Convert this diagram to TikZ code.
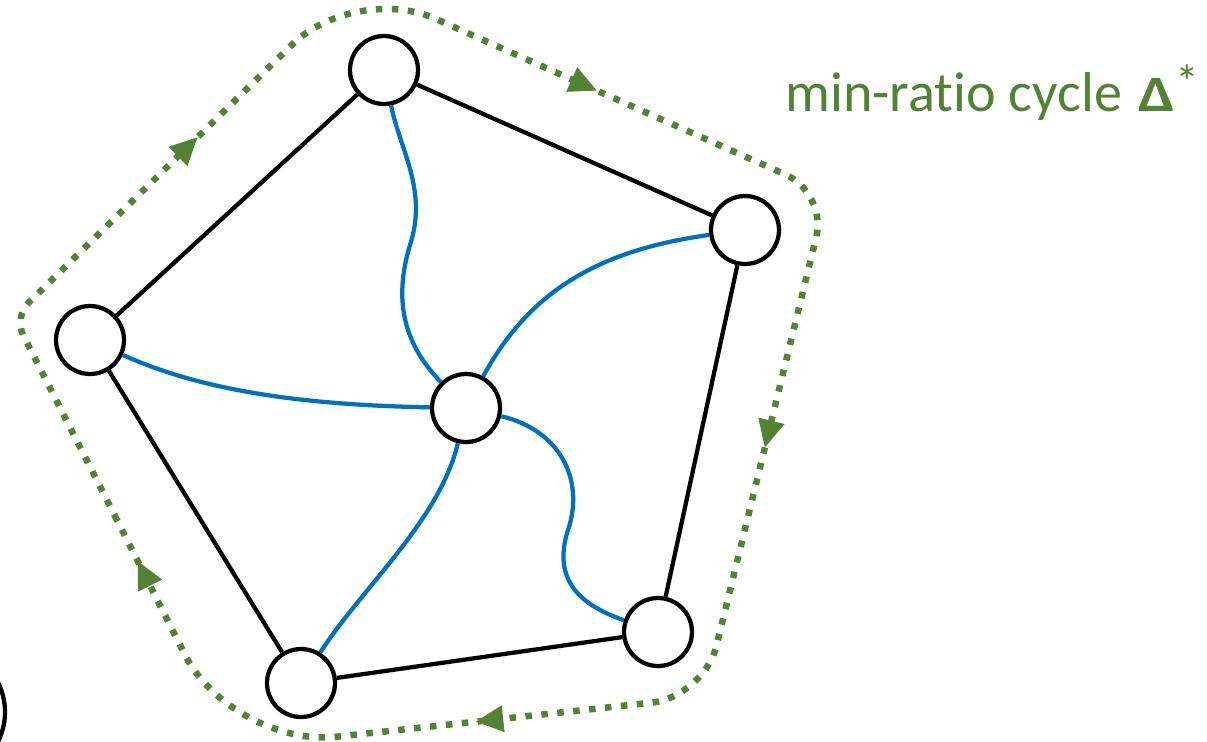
\documentclass[tikz,border=0pt]{standalone}
\usepackage{fontspec}
\setmainfont{Carlito}[Ligatures=NoCommon]
\usetikzlibrary{arrows.meta,decorations.markings}
\definecolor{cycgreen}{HTML}{548235}
\definecolor{edgeblue}{HTML}{0070C0}
\begin{document}
\begin{tikzpicture}[x=0.02cm,y=-0.02cm,
  vertex/.style={circle,draw,line width=0.085cm,minimum size=1.36cm,inner sep=0pt},
  edge/.style={line width=0.085cm},
  twist/.style={edgeblue,line width=0.085cm},
  cyctip/.tip={Triangle[length=0.56cm,width=0.5cm]},
  ratiocycle/.style={cycgreen,line width=0.13cm,dash pattern=on 0.13cm off 0.19cm,
    postaction={decorate},
    decoration={markings,
      mark=at position 0.201 with {\arrow{cyctip}},
      mark=at position 0.395 with {\arrow{cyctip}},
      mark=at position 0.604 with {\arrow{cyctip}},
      mark=at position 0.802 with {\arrow{cyctip}},
      mark=at position 0.981 with {\arrow{cyctip}}}}]
\useasboundingbox (0,0) rectangle (1207,741);
% vertices
\node[vertex] (t) at (384,70) {};
\node[vertex] (r) at (745,230) {};
\node[vertex] (l) at (90,340) {};
\node[vertex] (c) at (466,408) {};
\node[vertex] (br) at (658,632) {};
\node[vertex] (b) at (301,683) {};
\node[vertex,minimum size=2.64cm] (ghost) at (-61,712) {};
% outer edges
\draw[edge] (t) -- (l) (t) -- (r) (r) -- (br) (br) -- (b) (b) -- (l);
% blue edges to the centre
\draw[twist] (t) .. controls (400,150) and (428,190) .. (410,245)
  .. controls (395,295) and (400,340) .. (c);
\draw[twist] (c) .. controls (530,290) and (600,250) .. (r);
\draw[twist] (l) .. controls (200,390) and (300,405) .. (c);
\draw[twist] (c) .. controls (440,520) and (360,590) .. (b);
\draw[twist] (c) .. controls (560,430) and (585,480) .. (568,530)
  .. controls (552,580) and (580,605) .. (br);
% the cycle
\coordinate (s) at (117,520);
\coordinate (w) at (14,317);
\coordinate (n) at (355,-17);
\coordinate (ne) at (827,193);
\coordinate (se) at (704,697);
\coordinate (sw) at (232,748);
\draw[ratiocycle] (s) [rounded corners=0.4cm] -- (w) [rounded corners=1.75cm] -- (n)
  [rounded corners=0.9cm] -- (ne) [rounded corners=1.05cm] -- (se)
  [rounded corners=2.1cm] -- (sw) [sharp corners] -- cycle;
\node[anchor=base west,text=cycgreen,font=\fontsize{32}{38}\selectfont,inner sep=0pt] (lbl) at (785,111)
  {min-ratio cycle\hspace{0.3em}\textbf{\scalebox{1.25}[1]{\fontsize{29}{30}\selectfont Δ}}\raisebox{7pt}{\fontsize{27}{30}\selectfont *}};
\end{tikzpicture}
\end{document}
